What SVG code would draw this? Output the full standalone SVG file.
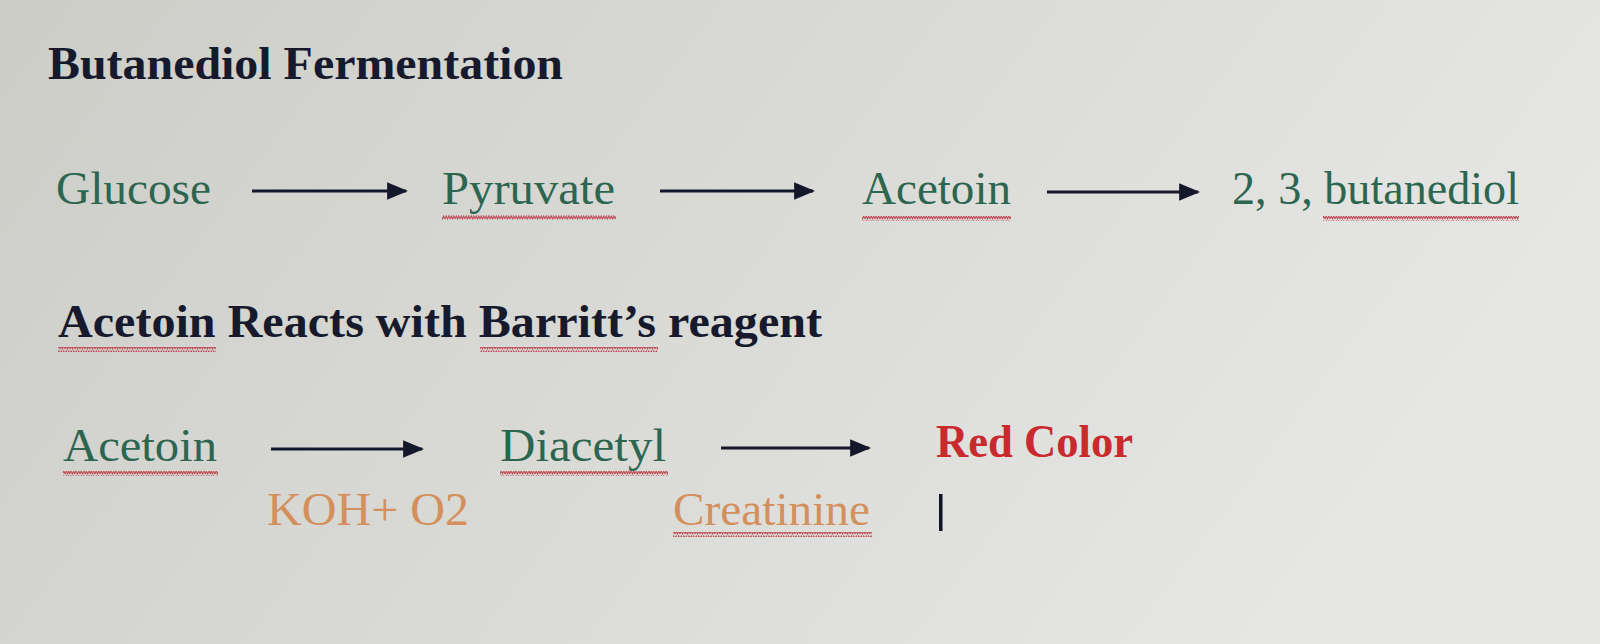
<svg xmlns="http://www.w3.org/2000/svg" width="1600" height="644" viewBox="0 0 1600 644">
<defs>
<linearGradient id="bg" x1="0" y1="0" x2="1" y2="0.3">
<stop offset="0" stop-color="#cdcdc8"/>
<stop offset="0.5" stop-color="#d9dad6"/>
<stop offset="1" stop-color="#e6e6e4"/>
</linearGradient>
<pattern id="wave" width="5" height="5" patternUnits="userSpaceOnUse">
<polyline points="0,4 1.25,1 2.5,4 3.75,1 5,4" fill="none" stroke="#c0505a" stroke-width="1.1"/>
</pattern>
<marker id="ah" viewBox="0 0 10 10" refX="9" refY="5" markerWidth="7" markerHeight="7" markerUnits="strokeWidth" orient="auto">
<path d="M0,0.8 L10,5 L0,9.2 Z" fill="#15182a"/>
</marker>
<style>
.t{font-family:"Liberation Serif","Times New Roman",serif;font-size:47px}
.b{font-weight:bold}
.navy{fill:#161a2c}
.green{fill:#2d6650}
.orange{fill:#d4905c}
.red{fill:#c92a2e}
.sq{fill:url(#wave)}
.arr{stroke:#15182a;stroke-width:3;fill:none;marker-end:url(#ah)}
</style>
</defs>
<rect width="1600" height="644" fill="url(#bg)"/>

<g id="title1"><text class="t b navy" x="48" y="79" textLength="515" lengthAdjust="spacingAndGlyphs">Butanediol  Fermentation</text></g>

<g id="glucose"><text class="t green" x="56" y="204" textLength="155" lengthAdjust="spacingAndGlyphs">Glucose</text></g>
<g id="pyruvate"><text class="t green" x="442" y="204" textLength="173" lengthAdjust="spacingAndGlyphs">Pyruvate</text><rect class="sq" x="442" y="215" width="174" height="5"/></g>
<g id="acetoin1"><text class="t green" x="862" y="204" textLength="149" lengthAdjust="spacingAndGlyphs">Acetoin</text><rect class="sq" x="862" y="216" width="149" height="5"/></g>
<g id="butanediol"><text class="t green" x="1232" y="204" textLength="287" lengthAdjust="spacingAndGlyphs">2, 3, butanediol</text><rect class="sq" x="1323" y="216" width="196" height="5"/></g>

<g id="title2"><text class="t b navy" x="58" y="337" textLength="764" lengthAdjust="spacingAndGlyphs">Acetoin Reacts with Barritt’s reagent</text><rect class="sq" x="58" y="347" width="158" height="5"/><rect class="sq" x="480" y="347" width="178" height="5"/></g>

<g id="acetoin2"><text class="t green" x="63" y="461" textLength="154" lengthAdjust="spacingAndGlyphs">Acetoin</text><rect class="sq" x="63" y="471" width="155" height="5"/></g>
<g id="diacetyl"><text class="t green" x="500" y="461" textLength="166" lengthAdjust="spacingAndGlyphs">Diacetyl</text><rect class="sq" x="500" y="471" width="168" height="5"/></g>
<g id="redcolor"><text class="t b red" x="936" y="457" textLength="197" lengthAdjust="spacingAndGlyphs">Red Color</text></g>
<g id="koh"><text class="t orange" x="267" y="525" textLength="202" lengthAdjust="spacingAndGlyphs">KOH+ O2</text></g>
<g id="creatinine"><text class="t orange" x="673" y="525" textLength="197" lengthAdjust="spacingAndGlyphs">Creatinine</text><rect class="sq" x="673" y="532" width="199" height="5"/></g>
<g id="cursor"><rect x="939" y="494" width="3.5" height="37" fill="#101422"/></g>

<g id="connectors">
<line class="arr" x1="252" y1="191" x2="406" y2="191"/>
<line class="arr" x1="660" y1="191" x2="813" y2="191"/>
<line class="arr" x1="1047" y1="192" x2="1198" y2="192"/>
<line class="arr" x1="271" y1="449" x2="422" y2="449"/>
<line class="arr" x1="721" y1="448" x2="869" y2="448"/>
</g>
</svg>
